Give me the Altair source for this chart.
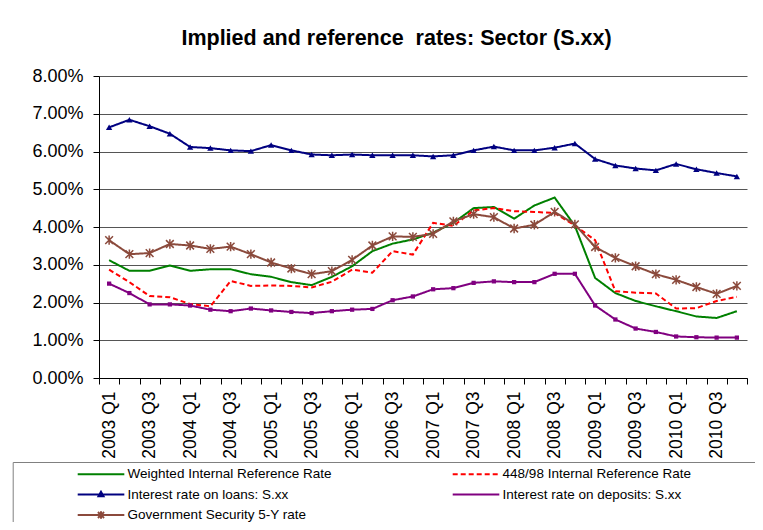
import altair as alt
import pandas as pd

quarters = ["2003 Q1", "2003 Q2", "2003 Q3", "2003 Q4", "2004 Q1", "2004 Q2", "2004 Q3", "2004 Q4",
            "2005 Q1", "2005 Q2", "2005 Q3", "2005 Q4", "2006 Q1", "2006 Q2", "2006 Q3", "2006 Q4",
            "2007 Q1", "2007 Q2", "2007 Q3", "2007 Q4", "2008 Q1", "2008 Q2", "2008 Q3", "2008 Q4",
            "2009 Q1", "2009 Q2", "2009 Q3", "2009 Q4", "2010 Q1", "2010 Q2", "2010 Q3", "2010 Q4"]

weighted = [3.12, 2.84, 2.84, 2.98, 2.84, 2.88, 2.88, 2.75, 2.68, 2.54, 2.46, 2.68, 2.96, 3.36, 3.56, 3.67,
            3.85, 4.11, 4.50, 4.53, 4.22, 4.57, 4.78, 4.03, 2.65, 2.25, 2.04, 1.90, 1.77, 1.63, 1.59, 1.77]
ref_448 = [2.87, 2.54, 2.17, 2.14, 1.96, 1.90, 2.57, 2.44, 2.45, 2.44, 2.40, 2.55, 2.87, 2.79, 3.36, 3.27,
           4.11, 4.03, 4.44, 4.50, 4.42, 4.40, 4.37, 4.04, 3.65, 2.30, 2.26, 2.24, 1.84, 1.85, 2.04, 2.15]
loans = [6.64, 6.84, 6.67, 6.47, 6.12, 6.09, 6.03, 6.01, 6.17, 6.03, 5.92, 5.90, 5.92, 5.90, 5.90, 5.90,
         5.87, 5.90, 6.03, 6.13, 6.03, 6.03, 6.10, 6.21, 5.80, 5.63, 5.55, 5.50, 5.67, 5.53, 5.43, 5.34]
deposits = [2.50, 2.25, 1.95, 1.95, 1.92, 1.81, 1.77, 1.84, 1.79, 1.75, 1.72, 1.77, 1.81, 1.83, 2.06, 2.16,
            2.35, 2.38, 2.52, 2.56, 2.54, 2.54, 2.76, 2.76, 1.92, 1.55, 1.31, 1.22, 1.10, 1.08, 1.07, 1.07]
gov5y = [3.65, 3.28, 3.31, 3.55, 3.51, 3.42, 3.48, 3.28, 3.06, 2.90, 2.75, 2.83, 3.13, 3.51, 3.75, 3.74,
         3.82, 4.15, 4.34, 4.26, 3.96, 4.06, 4.40, 4.07, 3.47, 3.18, 2.96, 2.75, 2.60, 2.41, 2.23, 2.44]

series_names = ["Weighted Internal Reference Rate", "448/98 Internal Reference Rate",
                "Interest rate on loans: S.xx", "Interest rate on deposits: S.xx",
                "Government Security 5-Y rate"]
series_values = [weighted, ref_448, loans, deposits, gov5y]
colors = ["#008000", "#FF0000", "#000080", "#800080", "#8B4A3C"]
dashes = [[1, 0], [5, 3], [1, 0], [1, 0], [1, 0]]

# legend symbols: line plus marker (unit coords; an invisible move-to widens each entry)
EXT = "M32.44,0"
LINE = "M-1,0H4.18"
legend_shapes = [
    EXT + LINE,
    EXT + LINE,
    EXT + LINE + "M1.59,-0.3L1.87,0.2L1.31,0.2Z",
    EXT + LINE,
    EXT + LINE + "M1.25,-0.33L1.93,0.33M1.25,0.33L1.93,-0.33M1.59,-0.42V0.42",
]
STAR = "M-1,-1L1,1M-1,1L1,-1M0,-1.2V1.2"

rows = []
for name, vals in zip(series_names, series_values):
    for i, (q, v) in enumerate(zip(quarters, vals)):
        rows.append({"series": name, "idx": i, "quarter": q, "value": v})
df = pd.DataFrame(rows)

FONT = "Liberation Sans"
n = len(quarters)
tick_vals = [i - 0.5 for i in range(n + 1)]
q_js = "[" + ",".join("'" + q + "'" for q in quarters) + "]"

x_main = alt.X("idx:Q", scale=alt.Scale(domain=[-0.5, n - 0.5], nice=False, zero=False),
               axis=alt.Axis(values=tick_vals, title=None, grid=False,
                             labelExpr=f"(datum.value+0.5)%2==0 ? {q_js}[datum.value+0.5] : ''",
                             labelAngle=270, labelAlign="right", labelBaseline="middle",
                             labelOffset=10.125, labelPadding=7, tickSize=6,
                             labelFontSize=17.5, labelFont=FONT, labelColor="black",
                             labelFlush=False, labelOverlap=False, labelBound=False,
                             tickColor="black", domainColor="black"))
y_main = alt.Y("value:Q", scale=alt.Scale(domain=[0, 8], nice=False),
               axis=alt.Axis(values=list(range(9)), title=None,
                             labelExpr="format(datum.value, '.2f') + '%'",
                             labelFontSize=18, labelFont=FONT, labelColor="black",
                             labelPadding=10, tickSize=6, tickColor="black",
                             domainColor="black", gridColor="#555555", gridWidth=1))

color_enc = alt.Color("series:N", scale=alt.Scale(domain=series_names, range=colors), legend=None)
dash_scale = alt.Scale(domain=series_names, range=dashes)

base = alt.Chart(df).encode(x=x_main, y=y_main)

leg = alt.Legend(orient="none", legendX=-86.3, legendY=386, columns=2, direction="horizontal",
                 title=None, labelFontSize=13.5, labelFont=FONT, labelColor="black", labelLimit=600,
                 symbolSize=324, symbolStrokeWidth=2, symbolOffset=62, labelOffset=30.9,
                 rowPadding=3.5, columnPadding=7, padding=2,
                 strokeColor="#808080", fillColor="white")

legend_layer = base.transform_filter("false").mark_point(filled=False, strokeWidth=2, opacity=1).encode(
    color=alt.Color("series:N", scale=alt.Scale(domain=series_names, range=colors), legend=leg),
    strokeDash=alt.StrokeDash("series:N", scale=dash_scale, legend=leg),
    shape=alt.Shape("series:N", scale=alt.Scale(domain=series_names, range=legend_shapes), legend=leg),
)

lines = base.mark_line(strokeWidth=2).encode(
    color=color_enc,
    strokeDash=alt.StrokeDash("series:N", scale=dash_scale, legend=None),
    detail="series:N",
)

tri = base.transform_filter(alt.datum.series == series_names[2]).mark_point(
    shape="triangle-up", filled=True, size=40, opacity=1).encode(color=color_enc)
sq = base.transform_filter(alt.datum.series == series_names[3]).mark_point(
    shape="square", filled=True, size=18, opacity=1).encode(color=color_enc)
star = base.transform_filter(alt.datum.series == series_names[4]).mark_point(
    shape=STAR, filled=False, size=60, strokeWidth=1.5, opacity=1).encode(color=color_enc)

chart = alt.layer(legend_layer, lines, tri, sq, star).properties(
    width=648, height=302,
    title=alt.Title("Implied and reference\u00a0 rates: Sector (S.xx)", fontSize=21.5, fontWeight="bold",
                    font=FONT, color="black", anchor="middle", frame="group", dx=-26.5,
                    baseline="alphabetic", offset=0.5),
    padding={"left": 91, "top": 68, "right": 8, "bottom": 144},
    autosize=alt.AutoSizeParams(type="none"),
).configure(background="white").configure_view(stroke=None)

chart.save("out.html", embed_options={"renderer": "svg", "actions": False})
